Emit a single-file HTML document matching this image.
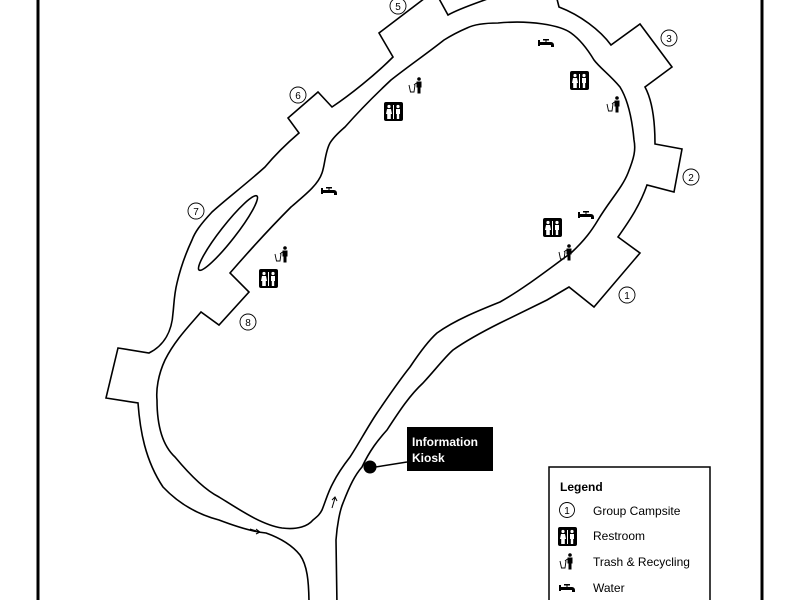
<!DOCTYPE html>
<html><head><meta charset="utf-8"><style>
html,body{margin:0;padding:0;background:#fff;width:800px;height:600px;overflow:hidden}
svg{display:block}
text{font-family:"Liberation Sans",sans-serif}
</style></head><body>
<svg width="800" height="600" viewBox="0 0 800 600" xmlns="http://www.w3.org/2000/svg">
<defs>
<g id="rr"><rect x="0" y="0" width="19" height="19" rx="2" fill="#000"/>
<circle cx="5" cy="4.5" r="1.6" fill="#fff"/><path d="M3,7 h4 l1,5 h-1.2 v5 h-3.6 v-5 h-1.2z" fill="#fff"/>
<rect x="9" y="3" width="1" height="14" fill="#fff"/>
<circle cx="14" cy="4.5" r="1.6" fill="#fff"/><path d="M12,7 h4 v5 h-0.8 v5 h-2.4 v-5 h-0.8z" fill="#fff"/></g>
<g id="tr"><path d="M0,8 L1.5,15 L5,15 L6,8" fill="none" stroke="#000" stroke-width="0.9"/>
<circle cx="10" cy="2" r="1.8" fill="#000"/><path d="M7.5,4.5 h5 v6 h-1 v6 h-3 v-6 h-1z" fill="#000"/><path d="M7.5,6 L5,8" stroke="#000" stroke-width="1"/></g>
<g id="wa"><rect x="0" y="2" width="2" height="6" fill="#000"/><rect x="0" y="4" width="13" height="3" fill="#000"/><path d="M9,4 h4 a3,3 0 0 1 3,3 v2 h-3 v-2 h-4z" fill="#000"/><rect x="5" y="1" width="6" height="1.5" fill="#000"/><rect x="7.5" y="1" width="1" height="3" fill="#000"/></g>
</defs>
<rect x="36.5" y="0" width="3" height="600" fill="#000"/>
<rect x="760.5" y="0" width="3" height="600" fill="#000"/>
<!-- outer road boundary -->
<path d="M337,606 L336,540 C337,525 340,510 343,503 C350,485 355,475 362,467 C370,450 378,440 387,430 C400,410 410,395 423,383 C435,370 445,357 453,350 C470,338 490,328 500,323 L547,300 L569,287 L594,307 L640,253 L618,237 C630,220 640,205 647,185 L674,192 L682,149 L655,144 C655,120 652,100 645,87 L672,67 L640,24 L611,45 C600,30 580,15 559,7 L556,-5 L498,-5 C480,2 460,8 448,15 L437,-5 L429,-5 L379,33 L393,57 C375,75 350,95 332,107 L318,92 L288,118 L299,133 C285,145 275,155 265,167 C245,185 225,200 212,212 C200,225 195,232 192,240 C185,255 180,270 177,283 C174,295 174,305 173,313 C172,330 165,345 149,353 L118,348 L106,398 L138,403 C140,430 145,460 163,487 C180,505 200,515 219,520 C240,528 255,532 266,533 C280,538 292,545 300,555 C307,565 309,580 309,606 Z" fill="#fff" stroke="#000" stroke-width="1.6" stroke-linejoin="miter"/>
<!-- inner boundary -->
<path d="M313,520 C318,516 320,514 322,510 C326,500 328,492 333,483 C338,473 343,466 350,457 C358,445 367,428 377,413 C388,397 398,382 410,367 C418,355 428,341 437,333 C455,320 480,310 500,302 C525,288 550,268 571,253 C585,240 592,230 598,220 C610,200 622,188 628,173 C634,158 636,150 634,140 C632,118 628,100 620,87 C610,75 600,68 594,60 C585,45 578,38 571,33 C560,25 530,20 498,23 C485,23 475,24 467,28 C460,31 452,35 444,40 C425,55 410,65 391,80 C375,95 360,110 345,127 C338,133 333,138 330,143 C325,152 325,165 322,173 C318,185 305,195 291,207 C270,228 250,250 230,273 L249,292 L219,325 L201,312 C190,325 175,340 165,360 C158,375 156,390 157,400 C157,425 162,445 175,457 C190,475 205,490 219,497 C240,510 262,525 282,528 C298,530 308,526 313,520 Z" fill="#fff" stroke="#000" stroke-width="1.6"/>
<ellipse cx="228" cy="233" rx="47" ry="7.5" transform="rotate(-52 228 233)" fill="#fff" stroke="#000" stroke-width="1.6"/>
<!-- campsite numbers -->
<g font-size="10" text-anchor="middle" fill="#000">
<circle cx="627" cy="295" r="8" fill="#fff" stroke="#000" stroke-width="0.9"/><text x="627" y="299">1</text>
<circle cx="691" cy="177" r="8" fill="#fff" stroke="#000" stroke-width="0.9"/><text x="691" y="181">2</text>
<circle cx="669" cy="38" r="8" fill="#fff" stroke="#000" stroke-width="0.9"/><text x="669" y="42">3</text>
<circle cx="398" cy="6" r="8" fill="#fff" stroke="#000" stroke-width="0.9"/><text x="398" y="10">5</text>
<circle cx="298" cy="95" r="8" fill="#fff" stroke="#000" stroke-width="0.9"/><text x="298" y="99">6</text>
<circle cx="196" cy="211" r="8" fill="#fff" stroke="#000" stroke-width="0.9"/><text x="196" y="215">7</text>
<circle cx="248" cy="322" r="8" fill="#fff" stroke="#000" stroke-width="0.9"/><text x="248" y="326">8</text>
</g>
<!-- icons -->
<use href="#wa" x="538" y="38"/>
<use href="#wa" x="321" y="186"/>
<use href="#wa" x="578" y="210"/>
<use href="#rr" x="570" y="71"/>
<use href="#rr" x="384" y="102"/>
<use href="#rr" x="543" y="218"/>
<use href="#rr" x="259" y="269"/>
<use href="#tr" x="409" y="77"/>
<use href="#tr" x="607" y="96"/>
<use href="#tr" x="275" y="246"/>
<use href="#tr" x="559" y="244"/>
<!-- arrows -->
<g stroke="#000" stroke-width="1" fill="none">
<path d="M332,508 L335,498 M332,500 L335,497 L337,501"/>
<path d="M250,529 L260,532 M256,529 L260,532 L256,534"/>
</g>
<!-- kiosk -->
<line x1="369" y1="468" x2="407" y2="462" stroke="#000" stroke-width="1.5"/>
<circle cx="370" cy="467" r="6.5" fill="#000"/>
<rect x="407" y="427" width="86" height="44" fill="#000"/>
<text x="412" y="446" font-size="12" font-weight="bold" fill="#fff">Information</text>
<text x="412" y="462" font-size="12" font-weight="bold" fill="#fff">Kiosk</text>
<!-- legend -->
<rect x="549" y="467" width="161" height="140" fill="#fff" stroke="#000" stroke-width="1.5"/>
<text x="560" y="491" font-size="12" font-weight="bold">Legend</text>
<circle cx="567" cy="510" r="7.5" fill="#fff" stroke="#000" stroke-width="0.9"/><text x="567" y="514" font-size="10" text-anchor="middle">1</text>
<text x="593" y="515" font-size="12">Group Campsite</text>
<use href="#rr" x="558" y="527"/>
<text x="593" y="540" font-size="12">Restroom</text>
<use href="#tr" x="560" y="553"/>
<text x="593" y="566" font-size="12">Trash &amp; Recycling</text>
<use href="#wa" x="559" y="583"/>
<text x="593" y="592" font-size="12">Water</text>
</svg>
</body></html>
